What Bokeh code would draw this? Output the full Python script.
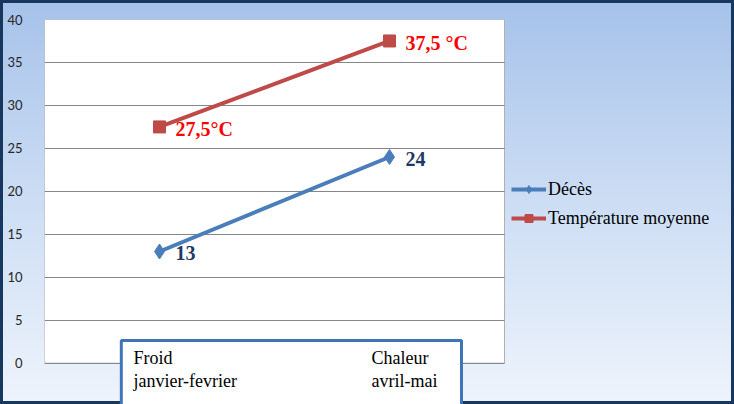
from bokeh.plotting import figure
from bokeh.models import (FactorRange, Range1d, FixedTicker, BoxAnnotation,
                          Legend, LegendItem, ColumnDataSource)
from bokeh.core.properties import value
from bokeh.embed import file_html
from bokeh.resources import INLINE

# ---- data ----
categories = ["Froid", "Chaleur"]
cat_line1 = ["Froid", "Chaleur"]
cat_line2 = ["janvier-fevrier", "avril-mai"]
deces = [13, 24]
temperature = [27.5, 37.5]
deces_labels = ["13", "24"]
temp_labels = ["27,5°C", "37,5 °C"]
y_ticks = [0, 5, 10, 15, 20, 25, 30, 35, 40]
series_names = ["Décès", "Température moyenne"]

BLUE = "#4a7ebb"
RED = "#be4b48"
NAVY = "#1f3864"

W, H = 734, 404
FL, FT, FR = 44, 19, 505
Y_MAX = 40
PX_PER_UNIT = (362.7 - FT) / 40.0
Y_MIN = -((H - 362.7) / PX_PER_UNIT)
CAT_TEXT_DX = [-26, -18]   # horizontal pixel shift of the category texts

# an extra, label-less slot on the right holds the legend
x_range = FactorRange(*categories, " ")

p = figure(width=W, height=H,
           x_range=x_range,
           y_range=Range1d(Y_MIN, Y_MAX),
           x_axis_location=None,
           output_backend="svg", toolbar_location=None,
           min_border_left=FL, min_border_top=FT,
           min_border_bottom=0, min_border_right=0)

p.styles = {
    "background": "linear-gradient(180deg, #a6c2ea 0%, #c9dbf3 45%, #eef4fc 100%)",
    "box-shadow": "inset 0 0 0 3px #17375e",
}
p.border_fill_alpha = 0
p.background_fill_alpha = 0
p.outline_line_color = None

n_cat = len(categories)

# white plot area 0..40 over the category slots only
p.add_layout(BoxAnnotation(left=0, right=n_cat, bottom=0, top=Y_MAX,
                           fill_color="white", fill_alpha=1,
                           line_color="#b0b0b0", line_alpha=1, line_width=1,
                           level="image"))

# y axis and grid
p.yaxis.ticker = FixedTicker(ticks=y_ticks)
p.yaxis.axis_line_color = None
p.yaxis.major_tick_line_color = None
p.yaxis.minor_tick_line_color = None
p.yaxis.major_label_standoff = 16
p.yaxis.major_label_text_font = "Lato"
p.yaxis.major_label_text_font_size = "13px"
p.yaxis.major_label_text_color = "#262626"
p.ygrid.ticker = FixedTicker(ticks=y_ticks)
p.ygrid.cross_bounds = (0, n_cat)
p.ygrid.grid_line_color = "#868686"
p.ygrid.grid_line_width = 1
p.xgrid.grid_line_color = None

# category text box
p.add_layout(BoxAnnotation(left=0.334, right=1.813, top=2.64, bottom=Y_MIN - 5,
                           fill_color="white", fill_alpha=1,
                           line_color="#3f74b6", line_alpha=1, line_width=3,
                           level="underlay"))
cat_src = ColumnDataSource(dict(x=categories, y=[0] * n_cat, t1=cat_line1,
                                t2=cat_line2, dx=CAT_TEXT_DX))
p.text("x", "y", text="t1", source=cat_src, x_offset="dx", y_offset=-5,
       text_font=value("Liberation Serif"), text_font_size="18px",
       text_color="black", text_baseline="middle", text_align="left")
p.text("x", "y", text="t2", source=cat_src, x_offset="dx", y_offset=18,
       text_font=value("Liberation Serif"), text_font_size="18px",
       text_color="black", text_baseline="middle", text_align="left")

# series
src_d = ColumnDataSource(dict(x=categories, y=deces, lab=deces_labels))
src_t = ColumnDataSource(dict(x=categories, y=temperature, lab=temp_labels))

ld = p.line("x", "y", source=src_d, line_color=BLUE, line_width=4)
md = p.scatter("x", "y", source=src_d, marker="diamond", size=15,
               fill_color=BLUE, line_color=BLUE)
lt = p.line("x", "y", source=src_t, line_color=RED, line_width=4)
mt = p.scatter("x", "y", source=src_t, marker="square", size=12,
               fill_color=RED, line_color=RED)

p.text("x", "y", text="lab", source=src_d, x_offset=16, y_offset=2,
       text_font=value("Liberation Serif"), text_font_style="bold",
       text_font_size="20px", text_color=NAVY, text_baseline="middle")
p.text("x", "y", text="lab", source=src_t, x_offset=16, y_offset=2,
       text_font=value("Liberation Serif"), text_font_style="bold",
       text_font_size="20px", text_color="#ff0000", text_baseline="middle")

legend = Legend(items=[LegendItem(label=series_names[0], renderers=[ld, md]),
                       LegendItem(label=series_names[1], renderers=[lt, mt])],
                location=(FR - FL + 6, H - 229), orientation="vertical")
legend.background_fill_alpha = 0
legend.border_line_color = None
legend.label_text_font = "Liberation Serif"
legend.label_text_font_size = "18px"
legend.label_text_color = "black"
legend.glyph_width = 35
legend.glyph_height = 20
legend.label_standoff = 2
legend.label_height = 22
legend.spacing = 7
legend.padding = 7
legend.margin = 0
p.add_layout(legend)

open("out.html", "w").write(file_html(p, INLINE))
